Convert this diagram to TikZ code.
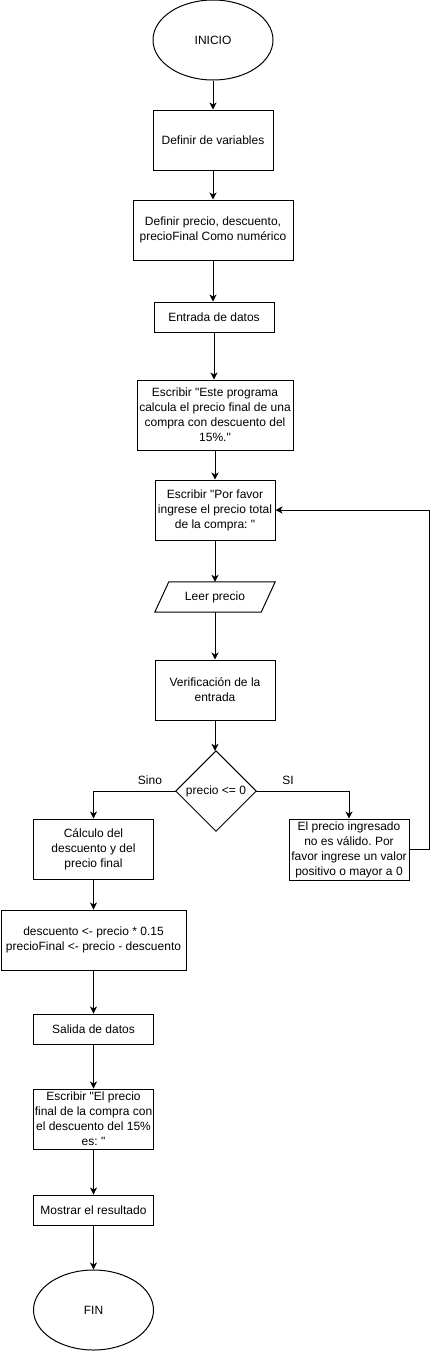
\documentclass[tikz,border=0pt]{standalone}
\usepackage{fontspec}
\setmainfont{Liberation Sans}[Ligatures=TeXOff]
\frenchspacing
\usetikzlibrary{shapes.geometric,arrows.meta}
\begin{document}
\begin{tikzpicture}[x=1pt,y=-1pt,
  every node/.style={font=\fontsize{12}{15}\selectfont, text=black, align=center, inner sep=0pt},
  box/.style={draw, line width=1pt, rectangle, minimum width=120pt, minimum height=60pt},
  oval/.style={draw, line width=1pt, ellipse, minimum width=120pt, minimum height=80pt},
  ghost/.style={draw=none, rectangle},
  conn/.style={line width=1pt, -{Stealth[length=7pt,width=7pt,inset=2pt]}},
  plain/.style={line width=1pt},
  lbl/.style={font=\fontsize{12}{15}\selectfont}
]
\useasboundingbox (0,0) rectangle (439,1352);

% main column
\node[oval] (inicio) at (213,40) {INICIO};
\node[box] (defvar) at (213,140) {Definir de variables};
\node[box, minimum width=160pt] (defprecio) at (213,230) {Definir precio, descuento,\\precioFinal Como numérico};
\node[box, minimum height=30pt] (entrada) at (214,317) {Entrada de datos};
\node[box, minimum width=156pt, minimum height=70pt] (escr1) at (215,415) {Escribir "Este programa\\calcula el precio final de una\\compra con descuento del\\15\%."};
\node[box] (porfavor) at (215,510) {Escribir "Por favor\\ingrese el precio total\\de la compra: "};
\node[ghost, minimum width=120pt, minimum height=30pt] (leer) at (215,597) {Leer precio};
\draw[plain] (leer.south west) -- ([xshift=14pt]leer.north west) -- (leer.north east) -- ([xshift=-14pt]leer.south east) -- cycle;
\node[box] (verif) at (215,690) {Verificación de la\\entrada};
\node[ghost, minimum width=80pt, minimum height=80pt] (dec) at (216,791) {precio <= 0};
\draw[plain] (dec.north) -- (dec.east) -- (dec.south) -- (dec.west) -- cycle;

% branches
\node[box] (calc) at (93.5,849) {Cálculo del\\descuento y del\\precio final};
\node[box, minimum height=61pt] (inval) at (349,849.5) {El precio ingresado\\no es válido. Por\\favor ingrese un valor\\positivo o mayor a 0};
\node[box, minimum width=185pt] (desc) at (93.5,940) {descuento <- precio * 0.15\\precioFinal <- precio - descuento};
\node[box, minimum height=30pt] (salida) at (93.5,1029) {Salida de datos};
\node[box] (escr2) at (93.5,1119) {Escribir "El precio\\final de la compra con\\el descuento del 15\%\\es: "};
\node[box, minimum height=30pt] (mostrar) at (93.5,1210) {Mostrar el resultado};
\node[oval] (fin) at (93.5,1310) {FIN};

\node[lbl] (sino) at (150,780) {Sino};
\node[lbl] (si) at (288,780) {SI};

% connectors
\draw[conn] (inicio.south) -- (inicio.south |- defvar.north);
\draw[conn] (defvar.south) -- (defvar.south |- defprecio.north);
\draw[conn] (defprecio.south) -- (defprecio.south |- entrada.north);
\draw[conn] (entrada.south) -- (entrada.south |- escr1.north);
\draw[conn] (escr1.south) -- (escr1.south |- porfavor.north);
\draw[conn] (porfavor.south) -- (porfavor.south |- leer.north);
\draw[conn] (leer.south) -- (leer.south |- verif.north);
\draw[conn] (verif.south) -- (verif.south |- dec.north);
\draw[conn] (dec.west) -| (calc.north);
\draw[conn] (dec.east) -| (inval.north);
\coordinate (loop) at ([xshift=20pt]inval.east);
\draw[conn] (inval.east) -- (loop) |- (porfavor.east);
\draw[conn] (calc.south) -- (calc.south |- desc.north);
\draw[conn] (desc.south) -- (desc.south |- salida.north);
\draw[conn] (salida.south) -- (salida.south |- escr2.north);
\draw[conn] (escr2.south) -- (escr2.south |- mostrar.north);
\draw[conn] (mostrar.south) -- (mostrar.south |- fin.north);
\end{tikzpicture}
\end{document}
